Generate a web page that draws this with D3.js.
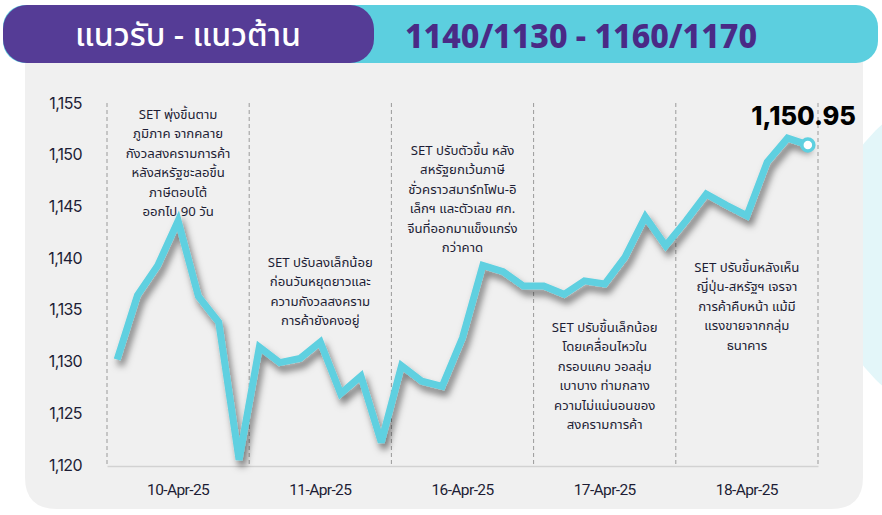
<!DOCTYPE html>
<html>
<head>
<meta charset="utf-8">
<script src="https://cdn.jsdelivr.net/npm/d3@7/dist/d3.min.js"></script>
<style>
  html, body { margin: 0; padding: 0; background: #ffffff; }
  svg { display: block; }
</style>
</head>
<body>
<svg id="chart" width="882" height="515"></svg>
<script>
// ---- data ----
const dates = ["10-Apr-25", "11-Apr-25", "16-Apr-25", "17-Apr-25", "18-Apr-25"];
const values10 = [1130.2, 1136.4, 1139.3, 1143.6, 1136.3, 1133.8, 1120.5];
const values11 = [1131.4, 1129.9, 1130.3, 1131.9, 1126.9, 1128.6, 1122.2];
const values16 = [1129.6, 1128.1, 1127.6, 1132.3, 1139.3, 1138.7, 1137.3];
const values17 = [1137.3, 1136.5, 1137.8, 1137.5, 1140.1, 1144.0, 1141.2];
const values18 = [1143.6, 1146.2, 1145.1, 1144.1, 1149.3, 1151.6, 1150.95];
const yTicks = [1120, 1125, 1130, 1135, 1140, 1145, 1150, 1155];
const titleLeft = "แนวรับ - แนวต้าน";
const titleRight = "1140/1130 - 1160/1170";
const lastLabel = "1,150.95";
const notes = [
  ["SET พุ่งขึ้นตาม", "ภูมิภาค จากคลาย", "กังวลสงครามการค้า", "หลังสหรัฐชะลอขึ้น", "ภาษีตอบโต้", "ออกไป 90 วัน"],
  ["SET ปรับลงเล็กน้อย", "ก่อนวันหยุดยาวและ", "ความกังวลสงคราม", "การค้ายังคงอยู่"],
  ["SET ปรับตัวขึ้น หลัง", "สหรัฐยกเว้นภาษี", "ชั่วคราวสมาร์ทโฟน-อิ", "เล็กฯ และตัวเลข ศก.", "จีนที่ออกมาแข็งแกร่ง", "กว่าคาด"],
  ["SET ปรับขึ้นเล็กน้อย", "โดยเคลื่อนไหวใน", "กรอบแคบ วอลลุ่ม", "เบาบาง ท่ามกลาง", "ความไม่แน่นอนของ", "สงครามการค้า"],
  ["SET ปรับขึ้นหลังเห็น", "ญี่ปุ่น-สหรัฐฯ เจรจา", "การค้าคืบหน้า แม้มี", "แรงขายจากกลุ่ม", "ธนาคาร"]
];
const noteValues = [1153.5, 1139.15, 1150.0, 1132.9, 1138.7]; // value level of first line baseline of each note

const series = [values10, values11, values16, values17, values18];
const points = [];
series.forEach((arr, di) => arr.forEach((v, j) => points.push({ key: di + "-" + j, day: dates[di], value: v })));

// ---- layout ----
const svg = d3.select("#chart");
const thai = "'Noto Sans Thai', 'Noto Sans', 'DejaVu Sans', sans-serif";
const pLeft = 107, pRight = 818, pTop = 103, pBottom = 465;

const defs = svg.append("defs");
const f = defs.append("filter").attr("id", "shadow").attr("x", "-20%").attr("y", "-20%").attr("width", "140%").attr("height", "140%");
f.append("feDropShadow").attr("dx", 3).attr("dy", 6).attr("stdDeviation", 3.5)
  .attr("flood-color", "#000").attr("flood-opacity", 0.5);

// decorative blob right
svg.append("circle").attr("cx", 1000).attr("cy", 255).attr("r", 176).attr("fill", "#e3f6f9");

// card
svg.append("path")
  .attr("d", (() => {
    const x0 = 25, x1 = 863, y0 = 55, y1 = 509, r = 32;
    return `M${x0},${y0} L${x1},${y0} L${x1},${y1 - r} Q${x1},${y1} ${x1 - r},${y1} L${x0 + r},${y1} Q${x0},${y1} ${x0},${y1 - r} Z`;
  })())
  .attr("fill", "#f0f0f0");

// header pills
svg.append("rect").attr("x", 3).attr("y", 5).attr("width", 875).attr("height", 58).attr("rx", 22).attr("fill", "#5ccfdf");
svg.append("rect").attr("x", 3).attr("y", 5).attr("width", 371).attr("height", 58).attr("rx", 24).attr("fill", "#553c96");
svg.append("text").attr("x", 188).attr("y", 46).attr("text-anchor", "middle")
  .attr("font-family", thai).attr("font-size", 32).attr("font-weight", 500).attr("fill", "#ffffff")
  .attr("textLength", 226).attr("lengthAdjust", "spacingAndGlyphs").text(titleLeft);
svg.append("text").attr("x", 581).attr("y", 48).attr("text-anchor", "middle")
  .attr("font-family", "'Noto Sans', sans-serif").attr("font-size", 33).attr("font-weight", 800)
  .attr("textLength", 352).attr("lengthAdjust", "spacingAndGlyphs").attr("fill", "#4a2a86").text(titleRight);

// scales
const y = d3.scaleLinear().domain([1120, 1155]).range([pBottom, pTop]);
const xp = d3.scalePoint().domain(points.map(d => d.key)).range([pLeft, pRight]).padding(0.5);
const xb = d3.scaleBand().domain(dates).range([pLeft, pRight]);

// y axis
const yAxis = svg.append("g").attr("transform", `translate(${pLeft - 22},0)`)
  .call(d3.axisLeft(y).tickValues(yTicks).tickFormat(d3.format(",")).tickSize(0));
yAxis.select(".domain").remove();
yAxis.selectAll("text").attr("font-family", "Inter, sans-serif").attr("font-size", 16)
  .attr("fill", "#1d1d35").attr("letter-spacing", -0.6);

// dashed separators
const bounds = dates.map(d => xb(d)).concat([xb.range()[1]]);
svg.append("g").selectAll("line").data(bounds).join("line")
  .attr("x1", d => d).attr("x2", d => d).attr("y1", pTop).attr("y2", pBottom)
  .attr("stroke", "#9a9a9a").attr("stroke-width", 1).attr("stroke-dasharray", "4,3");

// x axis
const xAxis = svg.append("g").attr("transform", `translate(0,${pBottom + 1})`)
  .call(d3.axisBottom(xb).tickSize(0).tickPadding(18));
xAxis.select(".domain").attr("stroke", "#d2d2d2").attr("stroke-width", 1.5);
xAxis.selectAll("text").attr("font-family", "Roboto, sans-serif").attr("font-size", 15.5)
  .attr("fill", "#1d1d35").attr("letter-spacing", -0.6);

// notes
const noteG = svg.append("g");
notes.forEach((lines, i) => {
  const cx = xb(dates[i]) + xb.bandwidth() / 2;
  const t = noteG.append("text").attr("x", cx).attr("y", y(noteValues[i]))
    .attr("text-anchor", "middle").attr("font-family", thai).attr("font-size", 13.2).attr("fill", "#1d1d35");
  lines.forEach((s, k) => t.append("tspan").attr("x", cx).attr("dy", k === 0 ? 0 : 19.5).text(s));
});

// line
const line = d3.line().x(d => xp(d.key)).y(d => y(d.value));
svg.append("path").datum(points).attr("d", line).attr("fill", "none")
  .attr("stroke", "#5ed0e0").attr("stroke-width", 7).attr("stroke-linejoin", "miter")
  .attr("stroke-miterlimit", 3).attr("filter", "url(#shadow)");

const last = points[points.length - 1];
svg.append("circle").attr("cx", xp(last.key)).attr("cy", y(last.value)).attr("r", 6)
  .attr("fill", "#ffffff").attr("stroke", "#5ed0e0").attr("stroke-width", 3.5);

svg.append("text").attr("x", 856).attr("y", 125).attr("text-anchor", "end")
  .attr("font-family", "Inter, sans-serif").attr("font-size", 25.5).attr("font-weight", 800)
  .attr("fill", "#000").text(lastLabel);
</script>
</body>
</html>
